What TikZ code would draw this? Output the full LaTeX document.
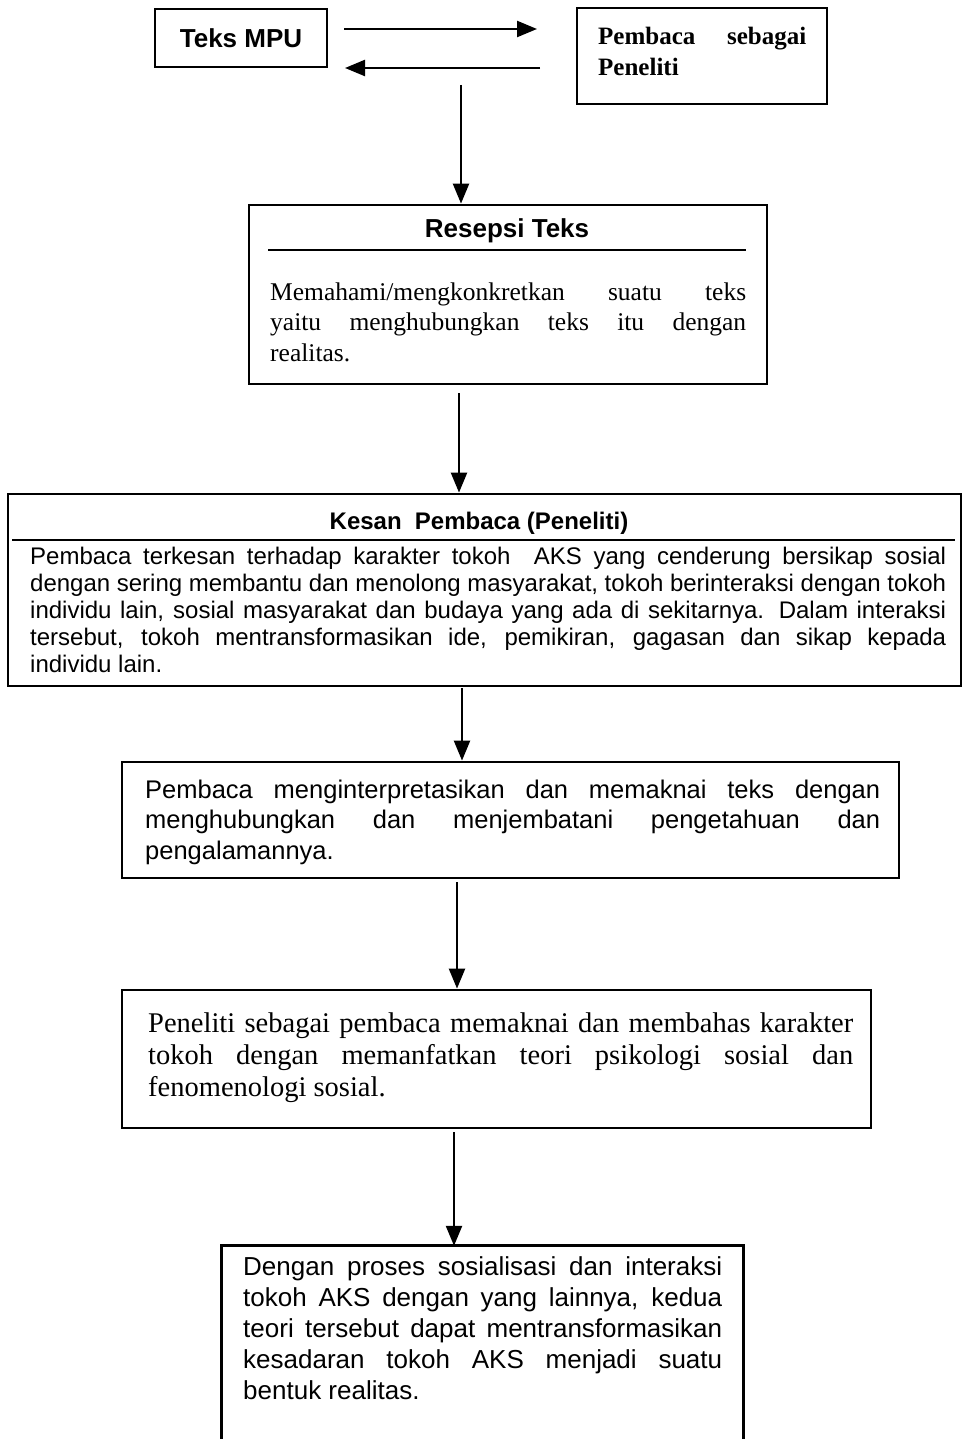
\documentclass[tikz,border=0pt]{standalone}
\usepackage{fontspec}
\setmainfont{Liberation Serif}
\setsansfont{Liberation Sans}
\usetikzlibrary{arrows.meta}
\newcommand{\jl}[1]{\makebox[\linewidth][s]{#1}}
\begin{document}
\begin{tikzpicture}[x=1pt,y=-1pt,
  box/.style={draw=black, line width=2.8pt, inner sep=0pt},
  openbox/.style={inner sep=0pt},
  arr/.style={draw=black, line width=2.3pt, -{Triangle[width=16pt,length=20pt]}},
  txt/.style={anchor=base west, inner sep=0pt},
  ttl/.style={anchor=base, inner sep=0pt},
  rulel/.style={draw=black, line width=2.2pt}]
\useasboundingbox (0,0) rectangle (963,1439);
\fill[white] (0,0) rectangle (963,1439);

% top boxes
\node[box, minimum width=172pt, minimum height=58pt] (tmpu) at (241,38)
  {\sffamily\bfseries\fontsize{26}{30}\selectfont Teks MPU};
\node[box, minimum width=250pt, minimum height=96pt] (pemb) at (702,56) {};
\node[txt] (pembT) at (598,45) {\parbox[t]{208pt}{\bfseries\fontsize{25}{31}\selectfont
  \jl{Pembaca sebagai}\\Peneliti}};

% Resepsi Teks
\node[box, minimum width=518pt, minimum height=179pt] (resepsi) at (508,294.5) {};
\node[ttl] (resepsiTitle) at (507,238) {\sffamily\bfseries\fontsize{26}{30}\selectfont Resepsi Teks};
\draw[rulel] (268,250) -- (746,250);
\node[txt] (resepsiT) at (270,300) {\parbox[t]{476pt}{\fontsize{25.5}{30.5}\selectfont
  \jl{Memahami/mengkonkretkan suatu teks}\\
  \jl{yaitu menghubungkan teks itu dengan}\\
  realitas.}};

% Kesan Pembaca
\node[box, minimum width=953pt, minimum height=192pt] (kesan) at (484.5,590) {};
\node[ttl] (kesanTitle) at (479,529) {\sffamily\bfseries\fontsize{24}{27}\selectfont Kesan\hspace{0.55em}Pembaca (Peneliti)};
\draw[rulel] (12,540) -- (955,540);
\node[txt] (kesanT) at (30,564) {\parbox[t]{916pt}{\sffamily\fontsize{24}{27}\selectfont
  \jl{Pembaca terkesan terhadap karakter tokoh \ AKS yang cenderung bersikap sosial}\\
  \jl{dengan sering membantu dan menolong masyarakat, tokoh berinteraksi dengan tokoh}\\
  \jl{individu lain, sosial masyarakat dan budaya yang ada di sekitarnya. Dalam interaksi}\\
  \jl{tersebut, tokoh mentransformasikan ide, pemikiran, gagasan dan sikap kepada}\\
  individu lain.}};

% Box 4
\node[box, minimum width=777pt, minimum height=116pt] (b4) at (510.5,820) {};
\node[txt] (b4T) at (145,798) {\parbox[t]{735pt}{\sffamily\fontsize{25.5}{30.5}\selectfont
  \jl{Pembaca menginterpretasikan dan memaknai teks dengan}\\
  \jl{menghubungkan dan menjembatani pengetahuan dan}\\
  pengalamannya.}};

% Box 5
\node[box, minimum width=749pt, minimum height=138pt] (b5) at (496.5,1059) {};
\node[txt] (b5T) at (148,1032) {\parbox[t]{705pt}{\fontsize{28.5}{32}\selectfont
  \jl{Peneliti sebagai pembaca memaknai dan membahas karakter}\\
  \jl{tokoh dengan memanfatkan teori psikologi sosial dan}\\
  fenomenologi sosial.}};

% Box 6 (cut by the lower edge)
\node[openbox, minimum width=521pt, minimum height=214pt] (b6) at (482.5,1353) {};
\draw[line width=2.8pt] (b6.south west) -- (b6.north west) -- (b6.north east) -- (b6.south east);
\node[txt] (b6T) at (243,1275) {\parbox[t]{479pt}{\sffamily\fontsize{26}{31}\selectfont
  \jl{Dengan proses sosialisasi dan interaksi}\\
  \jl{tokoh AKS dengan yang lainnya, kedua}\\
  \jl{teori tersebut dapat mentransformasikan}\\
  \jl{kesadaran tokoh AKS menjadi suatu}\\
  bentuk realitas.}};

% connectors
\coordinate (h1s) at (344,29);
\coordinate (h1e) at (537,29);
\draw[arr] (h1s) -- (h1e);
\coordinate (h2s) at (540,68);
\coordinate (h2e) at (345,68);
\draw[arr] (h2s) -- (h2e);

\coordinate (v1s) at (461,85);
\draw[arr] (v1s) -- (v1s |- resepsi.north);
\coordinate (v2s) at (459,393);
\draw[arr] (v2s) -- (v2s |- kesan.north);
\coordinate (v3s) at (462,688);
\draw[arr] (v3s) -- (v3s |- b4.north);
\coordinate (v4s) at (457,882);
\draw[arr] (v4s) -- (v4s |- b5.north);
\coordinate (v5s) at (454,1132);
\draw[arr] (v5s) -- (v5s |- b6.north);
\end{tikzpicture}
\end{document}
